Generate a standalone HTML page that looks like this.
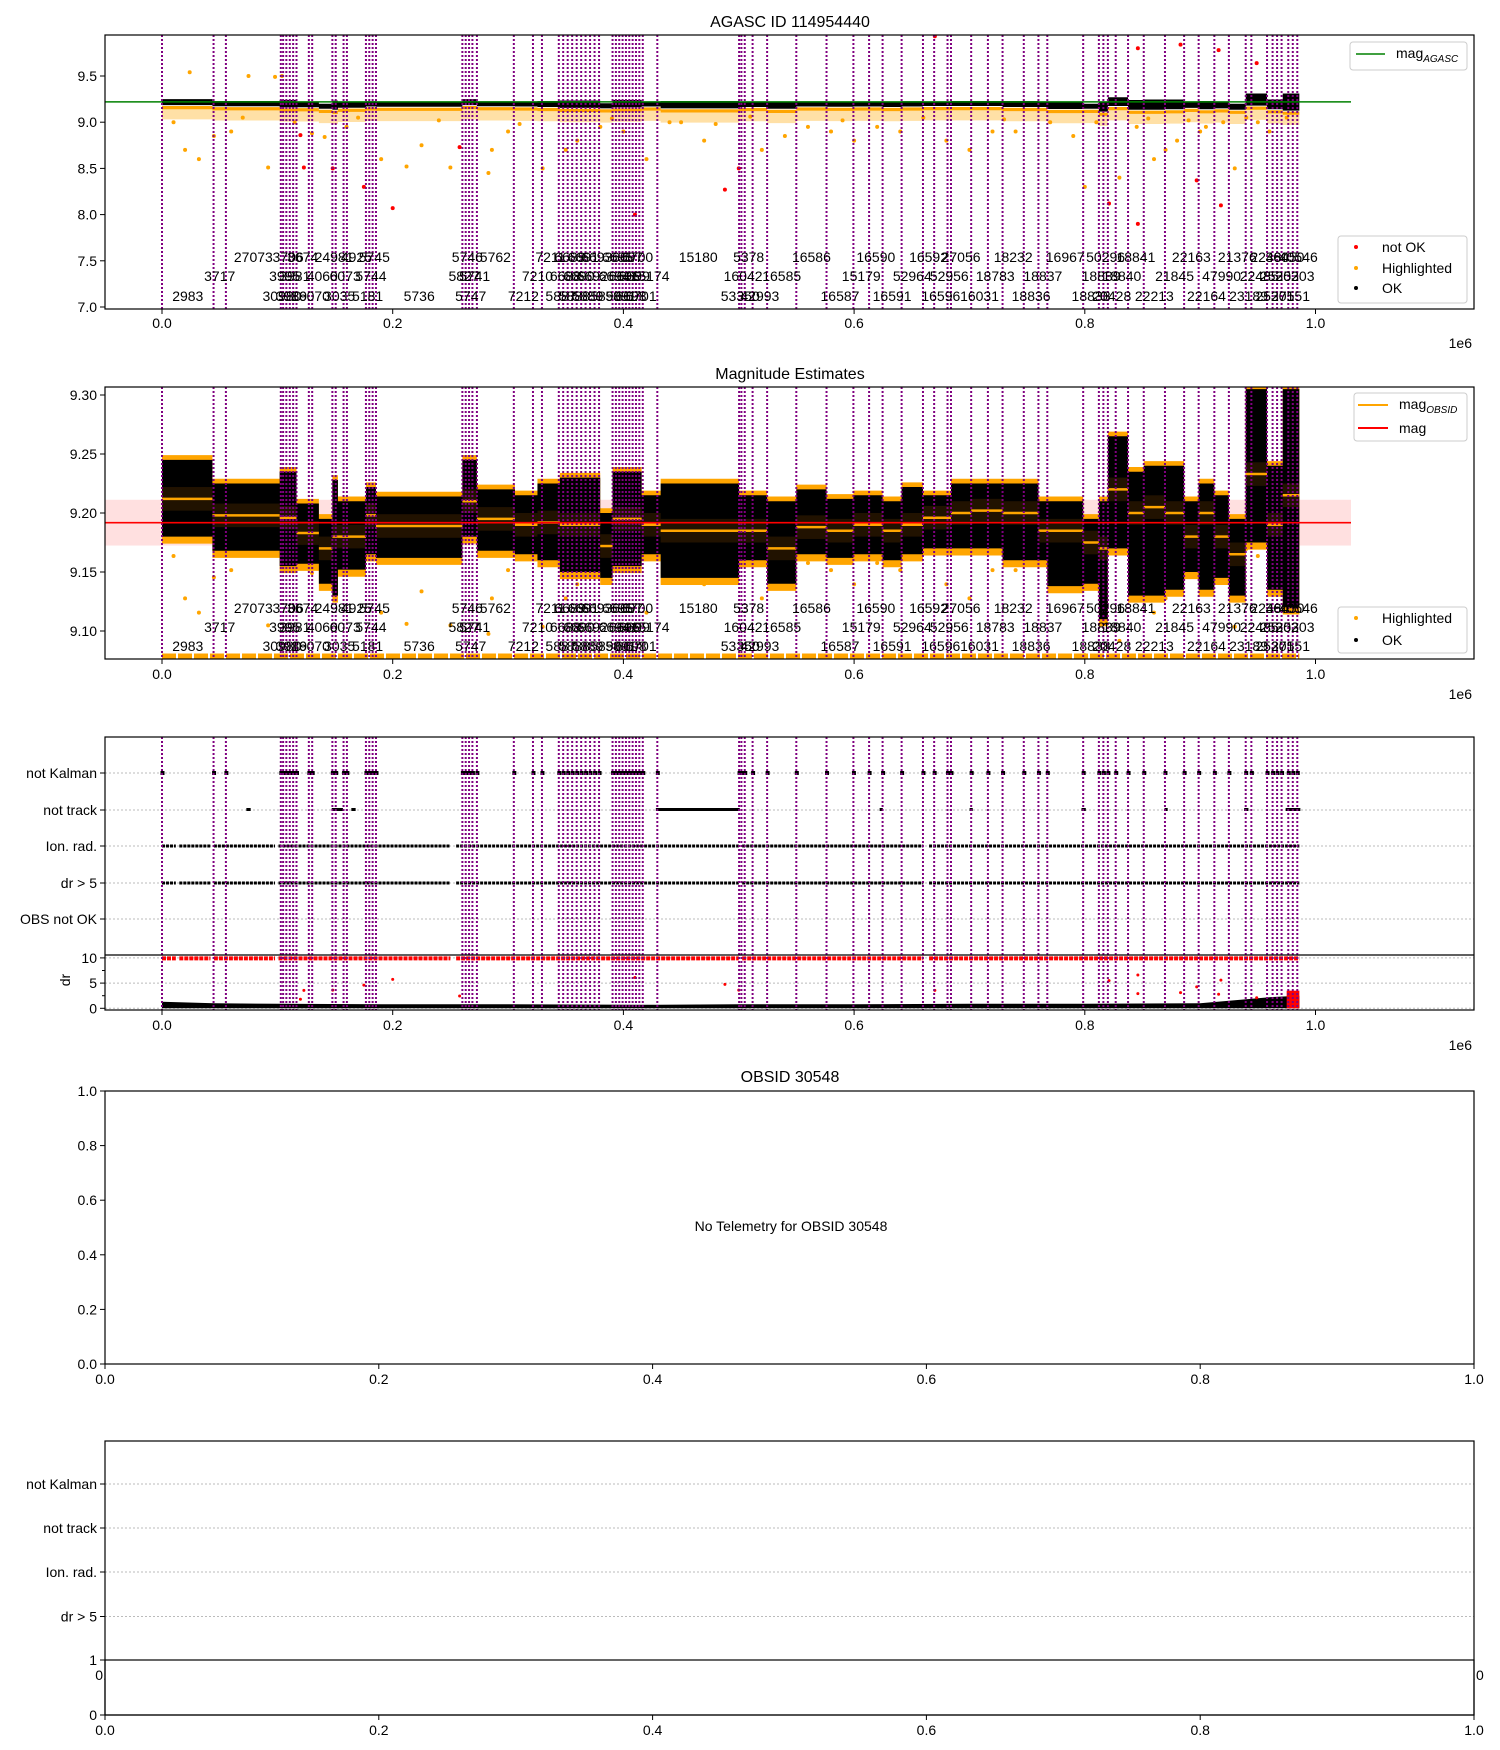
<!DOCTYPE html>
<html><head><meta charset="utf-8"><style>
html,body{margin:0;padding:0;background:#fff}
svg{display:block;font-family:"Liberation Sans","DejaVu Sans",sans-serif}
</style></head><body>
<svg id="fig" width="1500" height="1750" viewBox="0 0 1500 1750" xmlns="http://www.w3.org/2000/svg">
<defs>
<clipPath id="c1"><rect x="105" y="35" width="1369" height="274"/></clipPath>
<clipPath id="c2"><rect x="105" y="387" width="1369" height="272"/></clipPath>
<clipPath id="c3"><rect x="105" y="737" width="1369" height="273"/></clipPath>
</defs>
<rect width="1500" height="1750" fill="#fff"/>
<g id="g1"></g>
<g id="g2"></g>
<g id="g3"></g>
<g id="g4"></g>
<g id="g5"></g>
</svg>
<script>
// ---- data (time in units of 1e3; axis in 1e6) ----
const obsT = [0,44.7,55.4,103,105,107.8,110.8,113.7,116.6,127.3,130.2,147.7,150.6,157.4,160.3,176.8,179.7,182.6,185.5,260.4,263.3,266.2,269.1,273,305,321.6,329.4,344,347.8,351.7,355.6,359.5,363.4,367.2,371.1,375,378.9,390.6,393.5,396.4,399.3,402.2,405.1,408,410.9,413.8,416.8,429.4,500.3,502.3,505.2,512,524.6,549.9,576.1,599.4,613,624.7,641.2,659.7,669.4,681,684,701.5,716,728.7,747.1,759.8,767.5,798.6,812.2,816.1,820,826.8,837.5,851.1,869.5,886.1,898.7,912.3,924.9,939.5,944.4,958,962.8,966.7,970.6,976.4,980.3,984.2];
const obsLabels = ["2983","3717","27073","30980","3995","3706","3989","3981","3674","16070","4060","24981","3035","6073","4925","5181","5744","5745","5736","5827","5746","5747","5741","5762","7212","7210","7211","5887","6688","6689","5888","6690","6691","5889","6692","6693","5890","6694","6695","5891","6696","6697","6698","6699","6700","6701","15174","15180","53350","16042","5378","42993","16585","16586","16587","15179","16590","16591","52964","16592","16596","52956","27056","16031","18783","18232","18836","18837","16967","18838","18839","50296","20428","18840","18841","22213","21845","22163","22164","47990","21376","23189","22485","22484","25301","25302","36050","27551","25303","40546"];
const dataEnd = 986;
const segT = [0,43.7,102,116.6,136,147.7,152.5,176.8,185.5,260.4,273,306,325.5,344.9,379.9,390.6,415.8,432.3,500.3,524.6,549.9,576.1,599.4,624.7,641.2,659.7,684,701.5,728.7,759.8,767.5,798.6,812.2,820,837.5,851.1,869.5,886.1,898.7,912.3,924.9,939.5,958,971.6];
const segHi = [9.245,9.225,9.235,9.208,9.195,9.228,9.21,9.222,9.214,9.245,9.22,9.215,9.225,9.23,9.20,9.235,9.215,9.225,9.215,9.21,9.22,9.212,9.215,9.21,9.222,9.215,9.225,9.225,9.225,9.21,9.21,9.195,9.21,9.265,9.235,9.24,9.24,9.21,9.225,9.215,9.195,9.305,9.24,9.305];
const segLo = [9.18,9.168,9.155,9.157,9.14,9.13,9.152,9.165,9.162,9.18,9.168,9.165,9.16,9.15,9.145,9.155,9.165,9.145,9.16,9.14,9.165,9.162,9.165,9.16,9.165,9.17,9.17,9.17,9.16,9.16,9.138,9.14,9.11,9.17,9.13,9.13,9.135,9.15,9.135,9.145,9.13,9.175,9.135,9.12];
const segMean = [9.212,9.198,9.196,9.183,9.17,9.18,9.18,9.198,9.189,9.21,9.195,9.19,9.192,9.19,9.172,9.195,9.19,9.185,9.185,9.17,9.188,9.185,9.19,9.185,9.19,9.196,9.2,9.202,9.2,9.185,9.185,9.175,9.17,9.22,9.2,9.205,9.2,9.18,9.2,9.18,9.165,9.233,9.19,9.215];
const magAgasc = 9.22;
const magMean = 9.1918, magStd = 0.0194;
const outT = [24,75,98,104,20,32,92,212,250,225,141,283,286,60,160,190,330,360,400,420,470,520,560,600,640,700,740,770,800,830,860,880,900,930,950,960,45,130,300,350,380,450,480,540,580,620,680,720,790,845,870,905,920,975,10,70,115,170,240,310,390,440,510,590,660,730,810,855,890,940];
const outV = [9.54,9.5,9.49,9.5,8.7,8.6,8.51,8.52,8.51,8.75,8.84,8.45,8.7,8.9,8.95,8.6,8.5,8.8,8.9,8.6,8.8,8.7,8.95,8.8,8.9,8.7,8.9,9.0,8.3,8.4,8.6,8.8,8.9,8.5,9.0,8.9,8.85,8.88,8.9,8.7,8.95,9.0,8.98,8.85,8.9,8.95,8.8,8.9,8.85,8.95,8.7,8.95,9.0,9.05,9.0,9.05,9.0,9.05,9.02,8.98,9.04,9.0,9.06,9.02,9.05,9.03,9.0,9.04,9.02,9.05];
const badT = [120,123,148,175,200,258,846,883,916,949,846,821,897,918,670,488,410,500];
const badV = [8.86,8.51,8.5,8.3,8.07,8.73,9.8,9.84,9.78,9.64,7.9,8.12,8.37,8.1,9.93,8.27,8.0,8.5];
const trackRuns = [[74,76],[148,156],[165,167],[429,500],[623,624],[701,702],[798,800],[870,871],[939,941],[975,986]];
const ionRuns = [[0,12],[15,42],[45,98],[101,250],[255,500],[503,660],[665,986]];
const drCloudT = [0,45,100,200,300,430,500,600,700,800,900,940,960,986];
const drCloudV = [1.3,1.0,0.9,0.8,0.8,0.7,0.8,0.8,0.9,0.9,1.0,1.8,2.2,2.5];
const p5Cats = ["not Kalman","not track","Ion. rad.","dr > 5"];
const p3Cats = ["not Kalman","not track","Ion. rad.","dr > 5","OBS not OK"];

// ---- helpers ----
const NS="http://www.w3.org/2000/svg";
function el(parent,tag,attrs,text){const e=document.createElementNS(NS,tag);for(const k in attrs)e.setAttribute(k,attrs[k]);if(text!==undefined)e.textContent=text;parent.appendChild(e);return e;}
const L=105,R=1474;
const X=t=>162+t*1.1535;
const XU=v=>L+v*(R-L);
const Y1=v=>76+(9.5-v)*92.4;
const Y2=v=>395+(9.30-v)*1180;
const YDR=v=>1008.3-v*5.04;
const PURPLE="#800080";

function frame(g,top,bot){
  const r=el(g,'rect',{x:L,y:top,width:R-L,height:bot-top,fill:'none',stroke:'#000','stroke-width':1.2});
  
}
function xTicksData(g,bot,yl){
  [0,0.2,0.4,0.6,0.8,1.0].forEach(v=>{const x=X(v*1000);
    el(g,'line',{x1:x,x2:x,y1:bot,y2:bot+5,stroke:'#000'});
    const t=el(g,'text',{x:x,y:yl,'font-size':14,'text-anchor':'middle'},v.toFixed(1));
    });
  const s=el(g,'text',{x:1472,y:yl+20,'font-size':14,'text-anchor':'end'},'1e6');
  
}
function yTick(g,y,label,name){
  el(g,'line',{x1:L-5,x2:L,y1:y,y2:y,stroke:'#000'});
  const t=el(g,'text',{x:L-8,y:y+5,'font-size':14,'text-anchor':'end'},label);
  
}
function vlines(g,top,bot){
  obsT.forEach(t=>{const l=el(g,'line',{x1:X(t),x2:X(t),y1:top,y2:bot,stroke:PURPLE,'stroke-width':2,'stroke-dasharray':'2,2'});
    });
}
function obsText(g,rows){
  obsT.forEach((t,i)=>{const nx=i<obsT.length-1?obsT[i+1]:dataEnd;const m=(t+nx)/2;
    const tx=el(g,'text',{x:X(m),y:rows[i%3]+5,'font-size':14,'text-anchor':'middle'},obsLabels[i]);
    });
}
function bandPath(Yf,hiArr,loArr,dh,dl){
  let up="",dn=[];
  segT.forEach((t,i)=>{const e=i<segT.length-1?segT[i+1]:dataEnd;
    up+=(i?"L":"M")+X(t)+","+Yf(hiArr[i]+dh)+"L"+X(e)+","+Yf(hiArr[i]+dh);
    dn.unshift("L"+X(e)+","+Yf(loArr[i]-dl)+"L"+X(t)+","+Yf(loArr[i]-dl));});
  return up+dn.join("")+"Z";
}
function dot(g,x,y,r,c,name){const d=el(g,'circle',{cx:x,cy:y,r:r,fill:c});}

// ---- Panel 1 ----
const g1=document.getElementById('g1');
{
  const t=el(g1,'text',{x:790,y:27,'font-size':16,'text-anchor':'middle'},'AGASC ID 114954440');
  
  const c=el(g1,'g',{'clip-path':'url(#c1)'});
  const sp=el(c,'path',{d:bandPath(Y1,segLo,segLo,-0.03,0.15),fill:'rgba(255,165,0,0.35)'});
  
  const ob=el(c,'path',{d:bandPath(Y1,segLo,segLo,-0.005,0.04),fill:'orange'});
  
  outT.forEach((tt,i)=>dot(c,X(tt),Y1(outV[i]),2,'orange','highlighted-point'));
  const bb=el(c,'path',{d:bandPath(Y1,segHi,segLo,0.005,-0.005),fill:'#000'});
  
  badT.forEach((tt,i)=>dot(c,X(tt),Y1(badV[i]),2,'red','not-ok-point'));
  vlines(c,35,309);
  const gl=el(c,'line',{x1:L,x2:1351,y1:Y1(magAgasc),y2:Y1(magAgasc),stroke:'green','stroke-width':1.6});
  
  obsText(g1,[296,276,257]);
  frame(g1,35,309);
  [7.0,7.5,8.0,8.5,9.0,9.5].forEach(v=>yTick(g1,Y1(v),v.toFixed(1),'y-tick-label'));
  xTicksData(g1,309,328);
  const lg=el(g1,'g',{});
  el(lg,'rect',{x:1350,y:42,width:117,height:28,rx:3,fill:'#fff',stroke:'#ccc'});
  el(lg,'line',{x1:1356,x2:1385,y1:54,y2:54,stroke:'green','stroke-width':1.6});
  const lt=el(lg,'text',{x:1396,y:58,'font-size':14});lt.innerHTML='mag<tspan font-size="10" font-style="italic" dy="4">AGASC</tspan>';
  const lb=el(g1,'g',{});
  el(lb,'rect',{x:1338,y:236,width:129,height:67,rx:3,fill:'#fff',stroke:'#ccc'});
  [['not OK','red',247],['Highlighted','orange',268],['OK','#000',288]].forEach(e=>{
    dot(lb,1356,e[2],2,e[1],'legend-marker');
    const tt=el(lb,'text',{x:1382,y:e[2]+5,'font-size':14},e[0]);});
}

// ---- Panel 2 ----
const g2=document.getElementById('g2');
{
  const t=el(g2,'text',{x:790,y:379,'font-size':16,'text-anchor':'middle'},'Magnitude Estimates');
  
  const c=el(g2,'g',{'clip-path':'url(#c2)'});
  const pb=el(c,'rect',{x:L,y:Y2(magMean+magStd),width:1351-L,height:Y2(magMean-magStd)-Y2(magMean+magStd),fill:'rgba(255,0,0,0.12)'});
  
  const ob=el(c,'path',{d:bandPath(Y2,segHi,segLo,0.004,0.006),fill:'orange'});
  
  outT.forEach((tt,i)=>dot(c,X(tt),Y2(9.19-(9.22-outV[i])*0.12),2,'orange','highlighted-point'));
  const bl=el(c,'line',{x1:X(0),x2:X(dataEnd),y1:656,y2:656,stroke:'orange','stroke-width':5,'stroke-dasharray':'14,2'});
  
  const bb=el(c,'path',{d:bandPath(Y2,segHi,segLo,0,0),fill:'#000'});
  
  segT.forEach((tt,i)=>{const e=i<segT.length-1?segT[i+1]:dataEnd;
    const r=el(c,'rect',{x:X(tt),y:Y2(segMean[i]+0.01),width:X(e)-X(tt),height:Y2(segMean[i]-0.01)-Y2(segMean[i]+0.01),fill:'rgba(255,140,0,0.13)'});
    
    const l=el(c,'line',{x1:X(tt),x2:X(e),y1:Y2(segMean[i]),y2:Y2(segMean[i]),stroke:'orange','stroke-width':2.5});
    });
  vlines(c,387,659);
  const rl=el(c,'line',{x1:L,x2:1351,y1:Y2(magMean),y2:Y2(magMean),stroke:'red','stroke-width':1.6});
  
  obsText(g2,[646,627,608]);
  frame(g2,387,659);
  [9.10,9.15,9.20,9.25,9.30].forEach(v=>yTick(g2,Y2(v),v.toFixed(2),'y-tick-label'));
  xTicksData(g2,659,679);
  const lg=el(g2,'g',{});
  el(lg,'rect',{x:1354,y:393,width:113,height:48,rx:3,fill:'#fff',stroke:'#ccc'});
  el(lg,'line',{x1:1358,x2:1388,y1:405,y2:405,stroke:'orange','stroke-width':2});
  const a=el(lg,'text',{x:1399,y:409,'font-size':14});a.innerHTML='mag<tspan font-size="10" font-style="italic" dy="4">OBSID</tspan>';
  el(lg,'line',{x1:1358,x2:1388,y1:428,y2:428,stroke:'red','stroke-width':2});
  el(lg,'text',{x:1399,y:433,'font-size':14},'mag');
  const lb=el(g2,'g',{});
  el(lb,'rect',{x:1338,y:607,width:129,height:46,rx:3,fill:'#fff',stroke:'#ccc'});
  [['Highlighted','orange',618],['OK','#000',640]].forEach(e=>{
    dot(lb,1356,e[2],2,e[1],'legend-marker');
    const tt=el(lb,'text',{x:1382,y:e[2]+5,'font-size':14},e[0]);});
}

// ---- Panel 3 ----
const g3=document.getElementById('g3');
{
  const catY=[773,810,846,883,919];
  const c=el(g3,'g',{'clip-path':'url(#c3)'});
  catY.forEach(y=>el(c,'line',{x1:L,x2:R,y1:y,y2:y,stroke:'#bbb','stroke-dasharray':'2,2'}));
  [0,5,10].forEach(v=>el(c,'line',{x1:L,x2:R,y1:YDR(v),y2:YDR(v),stroke:'#bbb','stroke-dasharray':'2,2'}));
  obsT.forEach(t=>{const m=el(c,'rect',{x:X(t)-1.5,y:771,width:4,height:4,fill:'#000'});});
  trackRuns.forEach(r=>{const m=el(c,'rect',{x:X(r[0])-1,y:808,width:X(r[1])-X(r[0])+2,height:3,fill:'#000'});});
  ionRuns.forEach(r=>{
    const a=el(c,'line',{x1:X(r[0]),x2:X(r[1]),y1:846,y2:846,stroke:'#000','stroke-width':3,'stroke-dasharray':'3,1'});
    const b=el(c,'line',{x1:X(r[0]),x2:X(r[1]),y1:883,y2:883,stroke:'#000','stroke-width':3,'stroke-dasharray':'3,1'});
    const d=el(c,'line',{x1:X(r[0]),x2:X(r[1]),y1:YDR(9.9),y2:YDR(9.9),stroke:'red','stroke-width':4,'stroke-dasharray':'4,1'});});
  let p="M"+X(drCloudT[0])+","+YDR(0);
  drCloudT.forEach((t,i)=>{p+="L"+X(t)+","+YDR(drCloudV[i]);});
  p+="L"+X(drCloudT[drCloudT.length-1])+","+YDR(0)+"Z";
  const cl=el(c,'path',{d:p,fill:'#000'});
  badT.forEach((t,i)=>dot(c,X(t),YDR(Math.abs(9.22-badV[i])*5),1.5,'red','dr-point'));
  const rr=el(c,'rect',{x:X(975),y:YDR(3.5),width:X(986)-X(975),height:YDR(0)-YDR(3.5),fill:'red'});
  vlines(c,737,1010);
  el(g3,'line',{x1:L,x2:R,y1:955,y2:955,stroke:'#000','stroke-width':1.2});
  frame(g3,737,1010);
  p3Cats.forEach((s,i)=>yTick(g3,catY[i],s,'flag-label'));
  [0,5,10].forEach(v=>yTick(g3,YDR(v),String(v),'dr-tick-label'));
  [2.5,7.5].forEach(v=>el(g3,'line',{x1:L-3,x2:L,y1:YDR(v),y2:YDR(v),stroke:'#000'}));
  const dl=el(g3,'text',{x:70,y:980,'font-size':14,'text-anchor':'middle',transform:'rotate(-90 70 980)'},'dr');
  
  xTicksData(g3,1010,1030);
}

// ---- Panel 4 ----
const g4=document.getElementById('g4');
{
  const top=1091,bot=1364;
  const t=el(g4,'text',{x:790,y:1082,'font-size':16,'text-anchor':'middle'},'OBSID 30548');
  
  frame(g4,top,bot);
  [0,0.2,0.4,0.6,0.8,1.0].forEach(v=>{
    yTick(g4,bot-v*(bot-top),v.toFixed(1),'y-tick-label');
    el(g4,'line',{x1:XU(v),x2:XU(v),y1:bot,y2:bot+5,stroke:'#000'});
    const l=el(g4,'text',{x:XU(v),y:bot+20,'font-size':14,'text-anchor':'middle'},v.toFixed(1));});
  const m=el(g4,'text',{x:791,y:1231,'font-size':14,'text-anchor':'middle'},'No Telemetry for OBSID 30548');
  
}

// ---- Panel 5 ----
const g5=document.getElementById('g5');
{
  const top=1441,mid=1660,bot=1715;
  const cy=[1484,1528,1572,1616.5];
  cy.forEach((y,i)=>{el(g5,'line',{x1:L,x2:R,y1:y,y2:y,stroke:'#bbb','stroke-dasharray':'2,2'});yTick(g5,y,p5Cats[i],'flag-label');});
  el(g5,'text',{x:L,y:1680,'font-size':14,'text-anchor':'middle'},'0.0');
  el(g5,'text',{x:R,y:1680,'font-size':14,'text-anchor':'middle'},'1.0');
  el(g5,'rect',{x:L,y:mid,width:R-L,height:bot-mid,fill:'#fff',stroke:'#000','stroke-width':1.2});
  frame(g5,top,bot);
  yTick(g5,mid,'1','dr-tick-label');yTick(g5,bot,'0','dr-tick-label');
  [0,0.2,0.4,0.6,0.8,1.0].forEach(v=>{
    el(g5,'line',{x1:XU(v),x2:XU(v),y1:bot,y2:bot+5,stroke:'#000'});
    const l=el(g5,'text',{x:XU(v),y:bot+20,'font-size':14,'text-anchor':'middle'},v.toFixed(1));});
}
</script>
</body></html>
